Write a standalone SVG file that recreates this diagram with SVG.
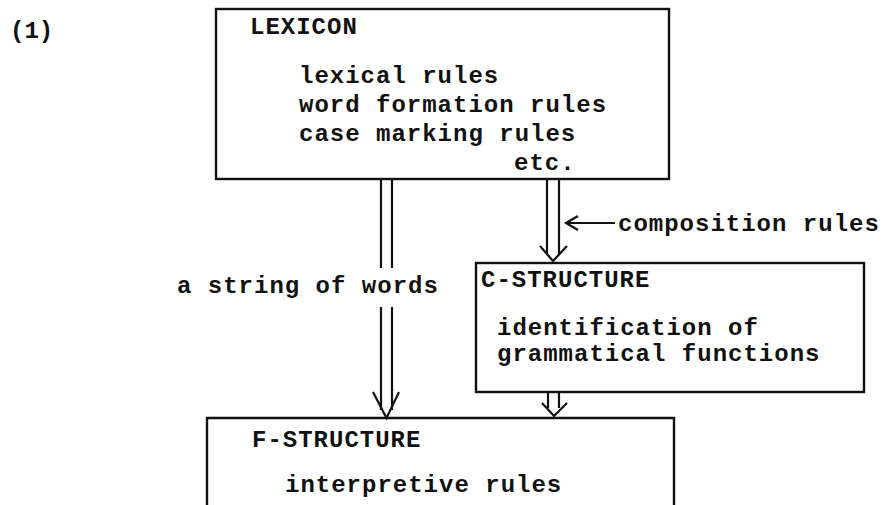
<svg xmlns="http://www.w3.org/2000/svg" width="883" height="505" viewBox="0 0 883 505">
<style>
.t{font-family:"Liberation Mono","DejaVu Sans Mono",monospace;font-weight:bold;font-size:24px;letter-spacing:1px;fill:#111}
.box{fill:none;stroke:#111;stroke-width:2.4}
.ln{fill:none;stroke:#111;stroke-width:2.2;stroke-linejoin:miter}
</style>
<rect width="883" height="505" fill="#fff"/>
<text class="t" x="10" y="38" style="letter-spacing:0">(1)</text>
<g id="lexicon">
<rect class="box" x="216" y="9" width="453" height="170"/>
<text class="t" x="250" y="34">LEXICON</text>
<text class="t" x="299" y="83">lexical rules</text>
<text class="t" x="299" y="112">word formation rules</text>
<text class="t" x="299" y="141">case marking rules</text>
<text class="t" x="514" y="170">etc.</text>
</g>
<g id="cstructure">
<rect class="box" x="476" y="263" width="388" height="129"/>
<text class="t" x="481" y="287">C-STRUCTURE</text>
<text class="t" x="497" y="335">identification of</text>
<text class="t" x="497" y="361">grammatical functions</text>
</g>
<g id="fstructure">
<path class="box" d="M207 506 V418 H674 V506"/>
<text class="t" x="252" y="447">F-STRUCTURE</text>
<text class="t" x="285" y="492">interpretive rules</text>
</g>
<g id="connectors">
<path class="ln" d="M381 180 V268 M392 180 V268 M381 307 V410 M392 307 V410 M373 392 L386.5 418 L399 392"/>
<text class="t" x="177" y="293">a string of words</text>
<path class="ln" d="M547 179 V254 M559 179 V254 M540 246 L553 261 L567 246"/>
<path class="ln" d="M567 223 H615 M578 216 L566 223 L578 230"/>
<text class="t" x="618" y="231">composition rules</text>
<path class="ln" d="M548 393 V408 M559 393 V408 M542 403 L554 416 L567 403"/>
</g>
</svg>
